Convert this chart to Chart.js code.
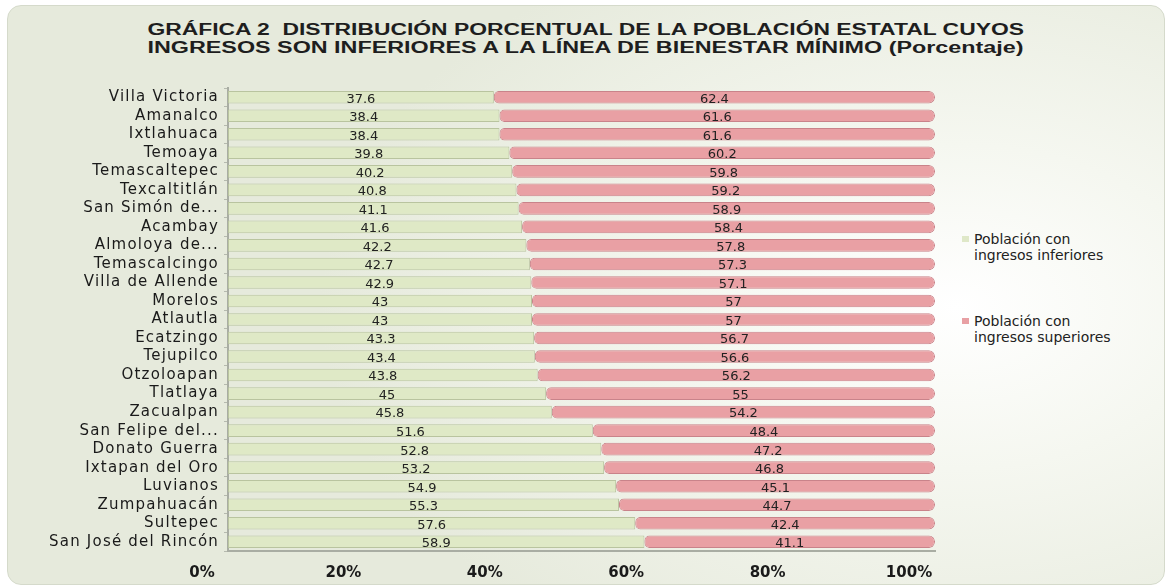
<!DOCTYPE html>
<html>
<head>
<meta charset="utf-8">
<script src="https://cdn.jsdelivr.net/npm/chart.js@4"></script>
<style>
    body { margin: 0; background: #fff; width: 1171px; height: 588px; overflow: hidden; position: relative; }
    .card {
        position: absolute; left: 7px; top: 5px; width: 1156px; height: 578px;
        border-radius: 14px; border: 1px solid #d5dacb;
        background: radial-gradient(ellipse 55% 70% at 82% 52%, #ffffff 0%, #f5f7f0 40%, #e6eadc 100%);
    }
    .title { position: absolute; left: 0; top: 21px; width: 1171px; text-align: center;
        font-family: "Liberation Sans", Arial, sans-serif; font-weight: bold; font-size: 16px; color: #1e1e1e; line-height: 18px; }
    .title span { display: inline-block; white-space: nowrap; transform-origin: center; }
    .legend { position: absolute; left: 962px; font-family: "DejaVu Sans", sans-serif; font-size: 14px; color: #222; line-height: 16px; }
    .legend i { position: absolute; left: 0; top: 5px; width: 7px; height: 6px; }
    .legend div { margin-left: 12px; }
    canvas { position: absolute; left: 0; top: 0; }
</style>
</head>
<body>
<div class="card"></div>
<div class="title">
    <span id="t1">GRÁFICA 2&nbsp; DISTRIBUCIÓN PORCENTUAL DE LA POBLACIÓN ESTATAL CUYOS</span><br>
    <span id="t2">INGRESOS SON INFERIORES A LA LÍNEA DE BIENESTAR MÍNIMO (Porcentaje)</span>
</div>
<div class="legend" style="top: 231px;"><i style="background:#dfe8c8;"></i><div>Población con<br>ingresos inferiores</div></div>
<div class="legend" style="top: 313px;"><i style="background:#e8a0a4;"></i><div>Población con<br>ingresos superiores</div></div>
<div style="width:1171px;height:588px;"><canvas id="myChart"></canvas></div>
<script>
    var municipios = [
        "Villa Victoria", "Amanalco", "Ixtlahuaca", "Temoaya", "Temascaltepec",
        "Texcaltitlán", "San Simón de...", "Acambay", "Almoloya de...", "Temascalcingo",
        "Villa de Allende", "Morelos", "Atlautla", "Ecatzingo", "Tejupilco",
        "Otzoloapan", "Tlatlaya", "Zacualpan", "San Felipe del...", "Donato Guerra",
        "Ixtapan del Oro", "Luvianos", "Zumpahuacán", "Sultepec", "San José del Rincón"
    ];
    var ingresosInferiores = [37.6, 38.4, 38.4, 39.8, 40.2, 40.8, 41.1, 41.6, 42.2, 42.7, 42.9, 43, 43, 43.3, 43.4, 43.8, 45, 45.8, 51.6, 52.8, 53.2, 54.9, 55.3, 57.6, 58.9];
    var ingresosSuperiores = [62.4, 61.6, 61.6, 60.2, 59.8, 59.2, 58.9, 58.4, 57.8, 57.3, 57.1, 57, 57, 56.7, 56.6, 56.2, 55, 54.2, 48.4, 47.2, 46.8, 45.1, 44.7, 42.4, 41.1];
    var tickPorcentaje = [0, 20, 40, 60, 80, 100];

    // estirar el titulo al ancho del original
    ['t1', 't2'].forEach(function (id) {
        var el = document.getElementById(id);
        el.style.transform = 'scaleX(' + (876 / el.offsetWidth) + ')';
    });

    // etiquetas de valor en el centro de cada barra
    var valueLabels = {
        id: 'valueLabels',
        afterDatasetsDraw: function (chart) {
            var ctx = chart.ctx;
            ctx.save();
            ctx.font = '13px "DejaVu Sans"';
            ctx.fillStyle = '#222';
            ctx.textAlign = 'center';
            ctx.textBaseline = 'middle';
            chart.data.datasets.forEach(function (ds, i) {
                chart.getDatasetMeta(i).data.forEach(function (bar, j) {
                    ctx.fillText(String(ds.data[j]), (bar.x + bar.base) / 2, bar.y + 2);
                });
            });
            ctx.restore();
        }
    };

    // las etiquetas del eje y van mas espaciadas en el original
    var spacedLabels = {
        id: 'spacedLabels',
        afterLayout: function (chart) {
            var y = chart.scales.y;
            if (y._spaced) return;
            var orig = y.drawLabels;
            y.drawLabels = function (area) {
                chart.ctx.letterSpacing = '1.2px';
                orig.call(this, area);
                chart.ctx.letterSpacing = '0px';
            };
            y._spaced = true;
        }
    };

    var data = {
        labels: municipios,
        datasets: [{
            label: 'Población con ingresos inferiores',
            data: ingresosInferiores,
            backgroundColor: '#dfe9c6',
            borderColor: '#b9c49f',
            borderWidth: 1,
            borderSkipped: false
        }, {
            label: 'Población con ingresos superiores',
            data: ingresosSuperiores,
            backgroundColor: '#e9a0a4',
            borderColor: '#c9838a',
            borderWidth: 1,
            borderSkipped: false,
            borderRadius: { topLeft: 5, bottomLeft: 5, topRight: 6, bottomRight: 6 }
        }]
    };

    var config = {
        type: 'bar',
        data: data,
        plugins: [valueLabels, spacedLabels],
        options: {
            indexAxis: 'y',
            responsive: true,
            maintainAspectRatio: false,
            animation: false,
            layout: { padding: { top: 88, right: 236, left: 0, bottom: 0 } },
            datasets: { bar: { barPercentage: 0.68, categoryPercentage: 1 } },
            plugins: { legend: { display: false }, tooltip: { enabled: false } },
            scales: {
                x: {
                    stacked: true,
                    min: 0, max: 100,
                    afterBuildTicks: function (axis) {
                        axis.ticks = tickPorcentaje.map(function (v) { return { value: v }; });
                    },
                    afterFit: function (axis) { axis.height = 37; },
                    grid: { display: false, drawTicks: false },
                    border: { display: true, color: '#a9ada3', width: 2 },
                    ticks: {
                        padding: 13,
                        labelOffset: -26,
                        color: '#1a1a1a',
                        font: { family: 'DejaVu Sans', size: 15, weight: 'bold' },
                        callback: function (v) { return v + '%'; }
                    }
                },
                y: {
                    stacked: true,
                    afterFit: function (axis) { axis.width = 228; },
                    grid: { display: true, drawOnChartArea: false, tickLength: 4, color: '#b5b9ae', offset: true },
                    border: { display: true, color: '#a9ada3', width: 2 },
                    ticks: {
                        autoSkip: false,
                        padding: 5,
                        color: '#1a1a1a',
                        font: { family: 'DejaVu Sans', size: 15 }
                    }
                }
            }
        }
    };

    var myChart = new Chart(document.getElementById('myChart'), config);
</script>
</body>
</html>
